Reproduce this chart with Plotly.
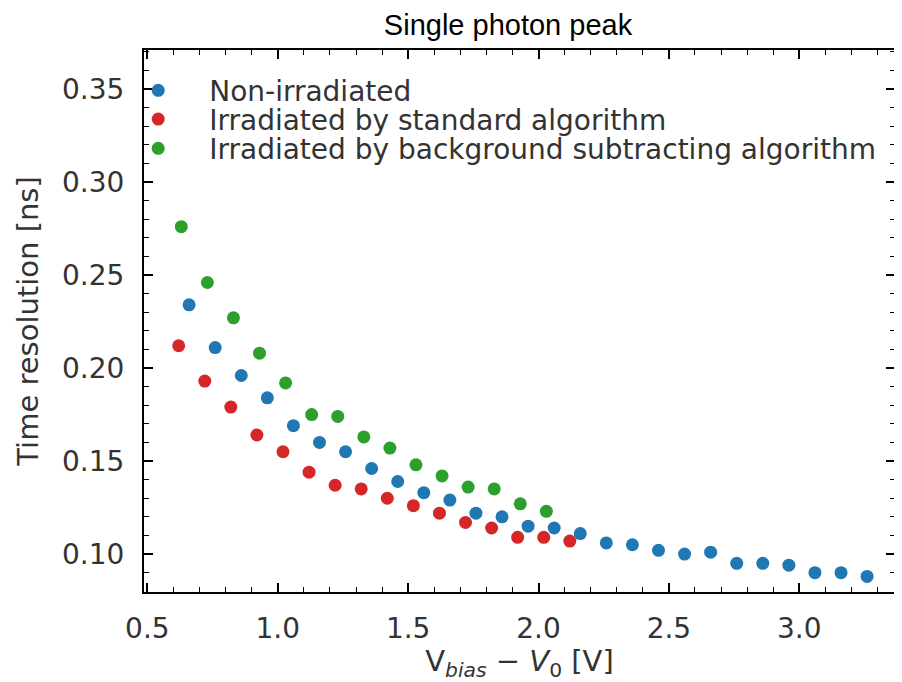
import plotly.graph_objects as go

# bias over-voltage [V] for each series
x_non_irr = [0.66, 0.76, 0.86, 0.96, 1.06, 1.16, 1.26, 1.36, 1.46, 1.56, 1.66, 1.76, 1.86, 1.96,
             2.06, 2.16, 2.26, 2.36, 2.46, 2.56, 2.66, 2.76, 2.86, 2.96, 3.06, 3.16, 3.26]
t_non_irr = [0.234, 0.211, 0.196, 0.184, 0.169, 0.160, 0.155, 0.146, 0.139, 0.133, 0.129, 0.122,
             0.120, 0.115, 0.114, 0.111, 0.106, 0.105, 0.102, 0.100, 0.101, 0.095, 0.095, 0.094,
             0.090, 0.090, 0.088]

x_std = [0.62, 0.72, 0.82, 0.92, 1.02, 1.12, 1.22, 1.32, 1.42, 1.52, 1.62, 1.72, 1.82, 1.92,
         2.02, 2.12]
t_std = [0.212, 0.193, 0.179, 0.164, 0.155, 0.144, 0.137, 0.135, 0.130, 0.126, 0.122, 0.117,
         0.114, 0.109, 0.109, 0.107]

x_bgs = [0.63, 0.73, 0.83, 0.93, 1.03, 1.13, 1.23, 1.33, 1.43, 1.53, 1.63, 1.73, 1.83, 1.93,
         2.03]
t_bgs = [0.276, 0.246, 0.227, 0.208, 0.192, 0.175, 0.174, 0.163, 0.157, 0.148, 0.142, 0.136,
         0.135, 0.127, 0.123]

series = [
    ("Non-irradiated", x_non_irr, t_non_irr, "#1f77b4"),
    ("Irradiated by standard algorithm", x_std, t_std, "#d62728"),
    ("Irradiated by background subtracting algorithm", x_bgs, t_bgs, "#2ca02c"),
]

# page body has an 8px margin, so the figure is a bit smaller than the window
W, H = 894, 674
fig = go.Figure()
legend_ids = ["legend", "legend2", "legend3"]
for (name, xs, ys, color), lid in zip(series, legend_ids):
    fig.add_trace(go.Scatter(x=xs, y=ys, mode="markers", name=name, legend=lid,
                             marker=dict(color=color, size=13)))

tick_font = dict(family="DejaVu Sans", size=28, color="#333333")
title_font = dict(family="DejaVu Sans", size=29, color="#333333")
common = dict(
    showline=True, linecolor="black", linewidth=2, mirror="allticks",
    ticks="inside", ticklen=9, tickwidth=1.5, tickcolor="black",
    showgrid=False, zeroline=False, tickfont=tick_font,
)

fig.update_xaxes(
    range=[0.487, 3.367], tick0=0.5, dtick=0.5, tickformat=".1f",
    minor=dict(ticks="inside", dtick=0.1, ticklen=5, tickcolor="black", tickwidth=1),
    ticklabelstandoff=10,
    title=dict(text="V<sub><i>bias</i></sub> \u2212 <i>V</i><sub>0</sub> [V]",
               font=title_font, standoff=8),
    **common,
)
fig.update_yaxes(
    range=[0.0796, 0.371], tick0=0.1, dtick=0.05, tickformat=".2f",
    minor=dict(ticks="inside", dtick=0.01, ticklen=5, tickcolor="black", tickwidth=1),
    ticklabelstandoff=12,
    title=dict(text="Time resolution [ns]", font=title_font, standoff=15),
    **common,
)

# one legend per series so the rows can sit as tightly as in the original
leg_common = dict(x=-0.049, xanchor="left", yanchor="middle", bgcolor="rgba(0,0,0,0)",
                  font=dict(family="DejaVu Sans", size=28, color="#333333"), itemwidth=92)
fig.update_layout(
    width=W, height=H,
    margin=dict(l=136, r=5, t=42, b=90),
    plot_bgcolor="white", paper_bgcolor="white",
    title=dict(text="Single photon peak", x=500 / W, xanchor="center",
               y=1 - 17 / H, yanchor="middle",
               font=dict(family="Liberation Sans", size=29, color="black")),
    legend=dict(y=0.925, **leg_common),
    legend2=dict(y=0.872, **leg_common),
    legend3=dict(y=0.818, **leg_common),
    showlegend=True,
)

fig.write_html("out.html")
